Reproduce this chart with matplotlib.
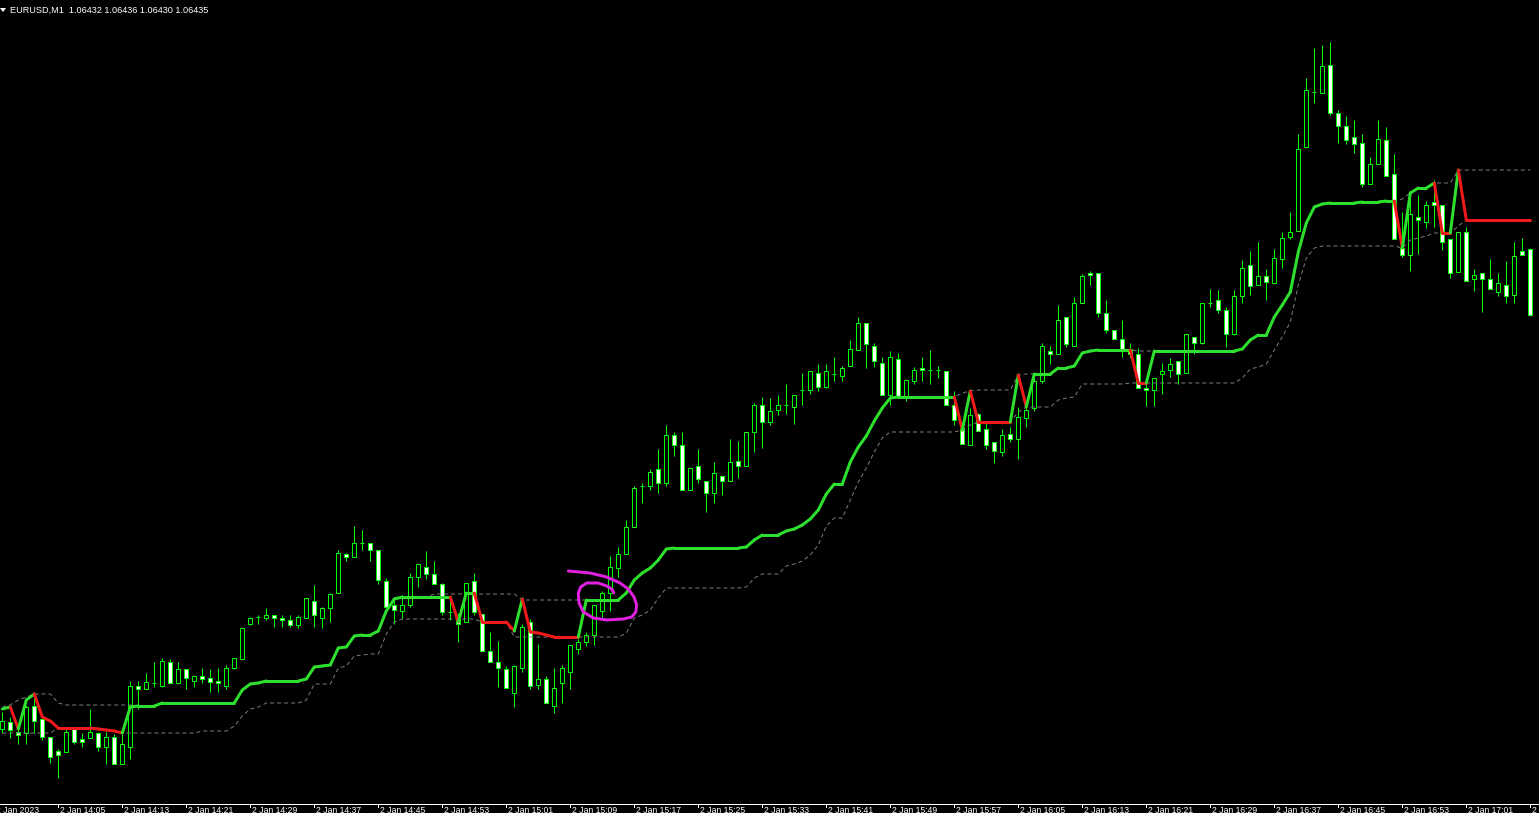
import matplotlib
matplotlib.use('Agg')
import matplotlib.pyplot as plt
from matplotlib.patches import Rectangle, Polygon
from matplotlib.collections import LineCollection
from matplotlib.lines import Line2D
import matplotlib.transforms as mtransforms
import numpy as np

plt.rcParams['font.family'] = ['Liberation Sans', 'DejaVu Sans']

# ---------------- data (EURUSD M1, one value per bar) ----------------
open_ = [
1.06271, 1.06278, 1.06268, 1.06267, 1.06294, 1.06281, 1.06263, 1.06249, 1.06248, 1.06271,
1.06261, 1.06262, 1.06267, 1.06253, 1.06263, 1.06236, 1.06253, 1.06314, 1.06311, 1.06317,
1.06314, 1.06338, 1.06317, 1.06331, 1.06319, 1.06324, 1.06322, 1.06319, 1.06314, 1.06332,
1.06341, 1.06376, 1.06383, 1.06382, 1.06385, 1.06382, 1.06380, 1.06375, 1.06382, 1.06399,
1.06382, 1.06392, 1.06407, 1.06446, 1.06443, 1.06457, 1.06457, 1.06450, 1.06419, 1.06395,
1.06389, 1.06395, 1.06423, 1.06433, 1.06426, 1.06416, 1.06388, 1.06381, 1.06378, 1.06419,
1.06386, 1.06349, 1.06338, 1.06331, 1.06307, 1.06332, 1.06378, 1.06315, 1.06321, 1.06294,
1.06317, 1.06328, 1.06351, 1.06358, 1.06365, 1.06389, 1.06407, 1.06432, 1.06446, 1.06473,
1.06514, 1.06514, 1.06531, 1.06517, 1.06565, 1.06555, 1.06510, 1.06534, 1.06519, 1.06507,
1.06524, 1.06519, 1.06539, 1.06534, 1.06568, 1.06595, 1.06578, 1.06590, 1.06595, 1.06593,
1.06610, 1.06610, 1.06627, 1.06613, 1.06626, 1.06624, 1.06634, 1.06650, 1.06677, 1.06654,
1.06637, 1.06605, 1.06641, 1.06604, 1.06619, 1.06632, 1.06630, 1.06630, 1.06629, 1.06595,
1.06571, 1.06555, 1.06586, 1.06571, 1.06558, 1.06548, 1.06566, 1.06561, 1.06582, 1.06592,
1.06619, 1.06649, 1.06646, 1.06683, 1.06654, 1.06697, 1.06727, 1.06727, 1.06687, 1.06670,
1.06661, 1.06651, 1.06646, 1.06612, 1.06610, 1.06626, 1.06630, 1.06639, 1.06627, 1.06663,
1.06657, 1.06697, 1.06700, 1.06690, 1.06666, 1.06704, 1.06735, 1.06715, 1.06724, 1.06717,
1.06741, 1.06763, 1.06769, 1.06853, 1.06908, 1.06907, 1.06935, 1.06887, 1.06874, 1.06863,
1.06857, 1.06816, 1.06836, 1.06860, 1.06826, 1.06752, 1.06745, 1.06783, 1.06778, 1.06798,
1.06795, 1.06761, 1.06728, 1.06768, 1.06721, 1.06727, 1.06721, 1.06708, 1.06715, 1.06705,
1.06749, 1.06751]

high = [
1.06288, 1.06283, 1.06273, 1.06295, 1.06307, 1.06281, 1.06263, 1.06251, 1.06271, 1.06271,
1.06267, 1.06291, 1.06268, 1.06268, 1.06266, 1.06266, 1.06319, 1.06319, 1.06327, 1.06338,
1.06342, 1.06341, 1.06338, 1.06331, 1.06324, 1.06332, 1.06331, 1.06332, 1.06335, 1.06342,
1.06372, 1.06383, 1.06385, 1.06392, 1.06385, 1.06385, 1.06385, 1.06385, 1.06402, 1.06415,
1.06393, 1.06407, 1.06450, 1.06447, 1.06474, 1.06470, 1.06457, 1.06450, 1.06422, 1.06403,
1.06405, 1.06427, 1.06436, 1.06449, 1.06439, 1.06417, 1.06405, 1.06387, 1.06417, 1.06427,
1.06386, 1.06368, 1.06359, 1.06334, 1.06335, 1.06376, 1.06381, 1.06356, 1.06324, 1.06332,
1.06335, 1.06355, 1.06361, 1.06368, 1.06395, 1.06409, 1.06444, 1.06453, 1.06480, 1.06514,
1.06517, 1.06531, 1.06551, 1.06575, 1.06568, 1.06568, 1.06532, 1.06551, 1.06519, 1.06538,
1.06524, 1.06561, 1.06559, 1.06568, 1.06597, 1.06603, 1.06602, 1.06605, 1.06616, 1.06605,
1.06627, 1.06629, 1.06636, 1.06636, 1.06643, 1.06634, 1.06660, 1.06683, 1.06677, 1.06657,
1.06643, 1.06649, 1.06647, 1.06620, 1.06633, 1.06643, 1.06650, 1.06634, 1.06629, 1.06609,
1.06576, 1.06592, 1.06587, 1.06577, 1.06558, 1.06571, 1.06573, 1.06593, 1.06596, 1.06626,
1.06657, 1.06654, 1.06695, 1.06683, 1.06703, 1.06726, 1.06729, 1.06727, 1.06700, 1.06670,
1.06680, 1.06657, 1.06652, 1.06622, 1.06622, 1.06637, 1.06642, 1.06639, 1.06666, 1.06663,
1.06697, 1.06711, 1.06710, 1.06693, 1.06710, 1.06740, 1.06749, 1.06758, 1.06731, 1.06751,
1.06768, 1.06788, 1.06866, 1.06922, 1.06952, 1.06955, 1.06958, 1.06890, 1.06884, 1.06880,
1.06866, 1.06843, 1.06880, 1.06873, 1.06846, 1.06788, 1.06803, 1.06805, 1.06799, 1.06820,
1.06795, 1.06761, 1.06768, 1.06773, 1.06731, 1.06727, 1.06741, 1.06727, 1.06739, 1.06758,
1.06762, 1.06752]

low = [
1.06267, 1.06262, 1.06256, 1.06256, 1.06267, 1.06260, 1.06237, 1.06222, 1.06248, 1.06256,
1.06253, 1.06262, 1.06249, 1.06236, 1.06236, 1.06236, 1.06241, 1.06291, 1.06311, 1.06313,
1.06313, 1.06317, 1.06317, 1.06311, 1.06313, 1.06317, 1.06308, 1.06308, 1.06311, 1.06331,
1.06341, 1.06375, 1.06376, 1.06380, 1.06373, 1.06373, 1.06373, 1.06372, 1.06382, 1.06373,
1.06372, 1.06378, 1.06407, 1.06439, 1.06443, 1.06450, 1.06439, 1.06416, 1.06393, 1.06376,
1.06381, 1.06393, 1.06413, 1.06421, 1.06416, 1.06385, 1.06380, 1.06358, 1.06378, 1.06385,
1.06349, 1.06338, 1.06313, 1.06312, 1.06293, 1.06328, 1.06311, 1.06311, 1.06297, 1.06287,
1.06297, 1.06311, 1.06346, 1.06354, 1.06355, 1.06383, 1.06389, 1.06423, 1.06446, 1.06473,
1.06497, 1.06510, 1.06507, 1.06514, 1.06544, 1.06510, 1.06510, 1.06517, 1.06488, 1.06497,
1.06505, 1.06519, 1.06522, 1.06534, 1.06548, 1.06552, 1.06575, 1.06585, 1.06586, 1.06576,
1.06595, 1.06606, 1.06609, 1.06612, 1.06619, 1.06619, 1.06634, 1.06650, 1.06632, 1.06633,
1.06605, 1.06595, 1.06604, 1.06599, 1.06616, 1.06619, 1.06616, 1.06622, 1.06595, 1.06575,
1.06556, 1.06555, 1.06569, 1.06551, 1.06537, 1.06544, 1.06558, 1.06541, 1.06573, 1.06589,
1.06617, 1.06636, 1.06646, 1.06653, 1.06654, 1.06697, 1.06715, 1.06683, 1.06667, 1.06661,
1.06643, 1.06642, 1.06612, 1.06594, 1.06594, 1.06606, 1.06623, 1.06616, 1.06627, 1.06646,
1.06656, 1.06693, 1.06687, 1.06653, 1.06665, 1.06697, 1.06705, 1.06715, 1.06700, 1.06717,
1.06732, 1.06761, 1.06769, 1.06853, 1.06897, 1.06907, 1.06885, 1.06857, 1.06856, 1.06847,
1.06813, 1.06816, 1.06836, 1.06824, 1.06761, 1.06743, 1.06729, 1.06746, 1.06772, 1.06773,
1.06750, 1.06722, 1.06728, 1.06719, 1.06709, 1.06688, 1.06711, 1.06704, 1.06697, 1.06697,
1.06745, 1.06684]

close = [
1.06279, 1.06270, 1.06265, 1.06293, 1.06279, 1.06263, 1.06243, 1.06245, 1.06268, 1.06258,
1.06258, 1.06268, 1.06253, 1.06263, 1.06236, 1.06256, 1.06314, 1.06311, 1.06318, 1.06317,
1.06339, 1.06317, 1.06331, 1.06322, 1.06324, 1.06321, 1.06318, 1.06317, 1.06332, 1.06342,
1.06372, 1.06382, 1.06383, 1.06385, 1.06382, 1.06380, 1.06375, 1.06383, 1.06402, 1.06385,
1.06392, 1.06406, 1.06447, 1.06443, 1.06457, 1.06457, 1.06450, 1.06420, 1.06393, 1.06390,
1.06395, 1.06423, 1.06436, 1.06426, 1.06416, 1.06388, 1.06388, 1.06376, 1.06417, 1.06388,
1.06349, 1.06338, 1.06332, 1.06312, 1.06334, 1.06373, 1.06314, 1.06321, 1.06297, 1.06312,
1.06332, 1.06355, 1.06358, 1.06365, 1.06395, 1.06407, 1.06433, 1.06446, 1.06473, 1.06512,
1.06514, 1.06528, 1.06517, 1.06565, 1.06555, 1.06510, 1.06532, 1.06521, 1.06507, 1.06527,
1.06519, 1.06538, 1.06534, 1.06568, 1.06595, 1.06578, 1.06589, 1.06595, 1.06595, 1.06605,
1.06610, 1.06629, 1.06613, 1.06629, 1.06626, 1.06632, 1.06651, 1.06677, 1.06656, 1.06639,
1.06605, 1.06643, 1.06604, 1.06620, 1.06630, 1.06630, 1.06630, 1.06630, 1.06595, 1.06580,
1.06556, 1.06585, 1.06569, 1.06555, 1.06549, 1.06565, 1.06561, 1.06583, 1.06590, 1.06619,
1.06654, 1.06646, 1.06680, 1.06656, 1.06697, 1.06724, 1.06725, 1.06687, 1.06670, 1.06661,
1.06651, 1.06646, 1.06612, 1.06610, 1.06622, 1.06629, 1.06636, 1.06626, 1.06666, 1.06657,
1.06697, 1.06697, 1.06690, 1.06666, 1.06704, 1.06732, 1.06714, 1.06724, 1.06718, 1.06742,
1.06762, 1.06768, 1.06851, 1.06910, 1.06908, 1.06934, 1.06887, 1.06874, 1.06860, 1.06856,
1.06816, 1.06836, 1.06861, 1.06824, 1.06761, 1.06745, 1.06786, 1.06780, 1.06795, 1.06795,
1.06758, 1.06727, 1.06768, 1.06719, 1.06725, 1.06721, 1.06711, 1.06717, 1.06704, 1.06744,
1.06745, 1.06685]

# trailing line of the indicator (thick, green/red)
trail = [
1.06291, 1.06293, 1.06271, 1.06300, 1.06306, 1.06283, 1.06279, 1.06272, 1.06272, 1.06272,
1.06272, 1.06272, 1.06271, 1.06270, 1.06269, 1.06267, 1.06293, 1.06294, 1.06294, 1.06294,
1.06297, 1.06297, 1.06297, 1.06297, 1.06297, 1.06297, 1.06297, 1.06297, 1.06297, 1.06297,
1.06310, 1.06316, 1.06317, 1.06319, 1.06319, 1.06319, 1.06319, 1.06319, 1.06321, 1.06333,
1.06334, 1.06335, 1.06352, 1.06353, 1.06364, 1.06365, 1.06365, 1.06369, 1.06389, 1.06401,
1.06403, 1.06403, 1.06403, 1.06403, 1.06403, 1.06403, 1.06403, 1.06378, 1.06407, 1.06407,
1.06378, 1.06378, 1.06378, 1.06378, 1.06369, 1.06401, 1.06368, 1.06367, 1.06365, 1.06363,
1.06363, 1.06363, 1.06363, 1.06400, 1.06400, 1.06400, 1.06400, 1.06400, 1.06407, 1.06420,
1.06427, 1.06432, 1.06440, 1.06451, 1.06452, 1.06452, 1.06452, 1.06452, 1.06452, 1.06452,
1.06452, 1.06452, 1.06452, 1.06453, 1.06460, 1.06465, 1.06465, 1.06465, 1.06469, 1.06471,
1.06475, 1.06481, 1.06490, 1.06506, 1.06516, 1.06516, 1.06538, 1.06553, 1.06564, 1.06579,
1.06592, 1.06602, 1.06603, 1.06603, 1.06603, 1.06603, 1.06603, 1.06603, 1.06603, 1.06603,
1.06570, 1.06609, 1.06578, 1.06578, 1.06578, 1.06578, 1.06578, 1.06625, 1.06593, 1.06626,
1.06626, 1.06626, 1.06632, 1.06632, 1.06634, 1.06647, 1.06649, 1.06650, 1.06650, 1.06650,
1.06650, 1.06650, 1.06617, 1.06617, 1.06649, 1.06649, 1.06649, 1.06649, 1.06649, 1.06649,
1.06649, 1.06649, 1.06649, 1.06649, 1.06649, 1.06651, 1.06660, 1.06665, 1.06665, 1.06683,
1.06695, 1.06708, 1.06748, 1.06777, 1.06793, 1.06796, 1.06797, 1.06797, 1.06797, 1.06797,
1.06798, 1.06798, 1.06798, 1.06799, 1.06799, 1.06752, 1.06807, 1.06812, 1.06812, 1.06817,
1.06767, 1.06767, 1.06830, 1.06780, 1.06780, 1.06780, 1.06780, 1.06780, 1.06780, 1.06780,
1.06780, 1.06780]

# bar ranges (inclusive) where the trailing line is in the down (red) state
red_runs = [(2, 2), (5, 15), (57, 57), (60, 64), (66, 72), (120, 120), (122, 126),
            (128, 128), (142, 143), (175, 175), (180, 181), (183, 191)]

# upper and lower bands (thin dotted grey)
band_hi = [
1.06293, 1.06295, 1.06300, 1.06303, 1.06306, 1.06306, 1.06306, 1.06297, 1.06295, 1.06295,
1.06295, 1.06295, 1.06295, 1.06295, 1.06295, 1.06295, 1.06295, 1.06294, 1.06294, 1.06294,
1.06297, 1.06297, 1.06297, 1.06297, 1.06297, 1.06297, 1.06297, 1.06297, 1.06297, 1.06297,
1.06310, 1.06316, 1.06317, 1.06319, 1.06319, 1.06319, 1.06319, 1.06319, 1.06321, 1.06333,
1.06334, 1.06335, 1.06352, 1.06353, 1.06364, 1.06365, 1.06365, 1.06369, 1.06389, 1.06401,
1.06403, 1.06403, 1.06403, 1.06403, 1.06406, 1.06406, 1.06406, 1.06406, 1.06406, 1.06406,
1.06406, 1.06406, 1.06406, 1.06406, 1.06406, 1.06400, 1.06400, 1.06400, 1.06400, 1.06400,
1.06400, 1.06400, 1.06400, 1.06400, 1.06400, 1.06400, 1.06400, 1.06400, 1.06407, 1.06420,
1.06427, 1.06432, 1.06440, 1.06451, 1.06452, 1.06452, 1.06452, 1.06452, 1.06452, 1.06452,
1.06452, 1.06452, 1.06452, 1.06453, 1.06460, 1.06465, 1.06465, 1.06465, 1.06469, 1.06471,
1.06475, 1.06481, 1.06490, 1.06506, 1.06516, 1.06516, 1.06538, 1.06553, 1.06564, 1.06579,
1.06592, 1.06602, 1.06603, 1.06603, 1.06603, 1.06603, 1.06603, 1.06603, 1.06603, 1.06603,
1.06607, 1.06609, 1.06610, 1.06610, 1.06610, 1.06610, 1.06610, 1.06625, 1.06626, 1.06626,
1.06626, 1.06626, 1.06632, 1.06632, 1.06634, 1.06647, 1.06649, 1.06650, 1.06650, 1.06650,
1.06650, 1.06650, 1.06649, 1.06649, 1.06649, 1.06649, 1.06649, 1.06649, 1.06649, 1.06649,
1.06649, 1.06649, 1.06649, 1.06649, 1.06649, 1.06651, 1.06660, 1.06665, 1.06665, 1.06683,
1.06695, 1.06708, 1.06748, 1.06777, 1.06793, 1.06796, 1.06797, 1.06797, 1.06797, 1.06797,
1.06798, 1.06798, 1.06798, 1.06799, 1.06799, 1.06801, 1.06807, 1.06812, 1.06812, 1.06817,
1.06817, 1.06817, 1.06830, 1.06830, 1.06830, 1.06830, 1.06830, 1.06830, 1.06830, 1.06830,
1.06830, 1.06830]

band_lo = [
1.06267, 1.06267, 1.06267, 1.06267, 1.06267, 1.06267, 1.06267, 1.06272, 1.06272, 1.06272,
1.06272, 1.06272, 1.06271, 1.06270, 1.06269, 1.06267, 1.06267, 1.06267, 1.06267, 1.06267,
1.06267, 1.06267, 1.06267, 1.06267, 1.06267, 1.06269, 1.06269, 1.06269, 1.06269, 1.06274,
1.06284, 1.06291, 1.06293, 1.06297, 1.06297, 1.06297, 1.06297, 1.06297, 1.06300, 1.06316,
1.06316, 1.06316, 1.06332, 1.06334, 1.06344, 1.06345, 1.06346, 1.06346, 1.06366, 1.06378,
1.06381, 1.06381, 1.06381, 1.06381, 1.06381, 1.06381, 1.06381, 1.06381, 1.06381, 1.06381,
1.06378, 1.06378, 1.06378, 1.06378, 1.06363, 1.06363, 1.06363, 1.06363, 1.06363, 1.06363,
1.06363, 1.06363, 1.06363, 1.06363, 1.06363, 1.06363, 1.06363, 1.06363, 1.06367, 1.06382,
1.06385, 1.06390, 1.06402, 1.06412, 1.06412, 1.06412, 1.06412, 1.06412, 1.06412, 1.06412,
1.06412, 1.06412, 1.06412, 1.06413, 1.06422, 1.06426, 1.06426, 1.06426, 1.06434, 1.06436,
1.06439, 1.06445, 1.06455, 1.06474, 1.06482, 1.06482, 1.06500, 1.06518, 1.06532, 1.06548,
1.06562, 1.06568, 1.06568, 1.06568, 1.06568, 1.06568, 1.06568, 1.06568, 1.06568, 1.06568,
1.06570, 1.06575, 1.06578, 1.06578, 1.06578, 1.06578, 1.06578, 1.06588, 1.06593, 1.06593,
1.06593, 1.06593, 1.06600, 1.06602, 1.06603, 1.06616, 1.06616, 1.06616, 1.06616, 1.06616,
1.06616, 1.06617, 1.06617, 1.06617, 1.06617, 1.06617, 1.06617, 1.06617, 1.06617, 1.06617,
1.06617, 1.06617, 1.06617, 1.06617, 1.06617, 1.06622, 1.06631, 1.06633, 1.06636, 1.06650,
1.06663, 1.06678, 1.06715, 1.06742, 1.06752, 1.06754, 1.06754, 1.06754, 1.06754, 1.06754,
1.06754, 1.06754, 1.06754, 1.06754, 1.06754, 1.06752, 1.06760, 1.06762, 1.06764, 1.06767,
1.06767, 1.06767, 1.06774, 1.06780, 1.06780, 1.06780, 1.06780, 1.06780, 1.06780, 1.06780,
1.06780, 1.06780]

# time axis labels and the bars they sit on
tick_bars = [-1, 7, 15, 23, 31, 39, 47, 55, 63, 71, 79, 87, 95, 103, 111, 119, 127,
             135, 143, 151, 159, 167, 175, 183, 191]
tick_labels = ['2 Jan 2023', '2 Jan 14:05', '2 Jan 14:13', '2 Jan 14:21', '2 Jan 14:29',
               '2 Jan 14:37', '2 Jan 14:45', '2 Jan 14:53', '2 Jan 15:01', '2 Jan 15:09',
               '2 Jan 15:17', '2 Jan 15:25', '2 Jan 15:33', '2 Jan 15:41', '2 Jan 15:49',
               '2 Jan 15:57', '2 Jan 16:05', '2 Jan 16:13', '2 Jan 16:21', '2 Jan 16:29',
               '2 Jan 16:37', '2 Jan 16:45', '2 Jan 16:53', '2 Jan 17:01', '2 Jan 17:09']

title_text = 'EURUSD,M1  1.06432 1.06436 1.06430 1.06435'

# hand-drawn magenta annotation (bar, price)
mark_bar = [70.75, 73.46, 75.55, 77.21, 78.25, 78.96, 79.30, 79.18, 78.68, 77.63, 75.55,
            73.88, 72.63, 72.09, 72.00, 72.30, 73.05, 74.50, 75.55, 76.18, 76.46]
mark_price = [1.06429, 1.06427, 1.06423, 1.06417, 1.06411, 1.06403, 1.06395, 1.06388,
              1.06383, 1.06381, 1.06380, 1.06382, 1.06388, 1.06397, 1.06407, 1.06413,
              1.06417, 1.06417, 1.06414, 1.06411, 1.06407]

# ---------------- figure ----------------
W, H = 1539, 813
AX_BOTTOM = 803
PX = 72.0 / 100.0  # points per pixel

fig = plt.figure(figsize=(W / 100, H / 100), dpi=100, facecolor='black')
ax = fig.add_axes([0, (H - AX_BOTTOM) / H, 1, AX_BOTTOM / H])
ax.set_facecolor('black')
ax.set_xlim(-2.3 / 8, (W - 2.3) / 8)
ax.set_ylim(1.06197, 1.07000)
ax.axis('off')

LIME = '#00FF00'
n = len(open_)
bars = np.arange(n)

# wicks
ax.vlines(bars, low, high, colors=LIME, linewidth=PX, zorder=2)
# bodies
for i in range(n):
    o, c = open_[i], close[i]
    bottom = min(o, c)
    h = abs(c - o)
    face = 'white' if c < o else 'black'
    ax.add_patch(Rectangle((i - 0.25, bottom), 0.5, h, facecolor=face,
                           edgecolor=LIME, linewidth=PX, zorder=3))

# bands
ax.plot(bars, band_hi, color='#7A7A7A', lw=PX, ls=(0, (4, 3)), zorder=4)
ax.plot(bars, band_lo, color='#7A7A7A', lw=PX, ls=(0, (4, 3)), zorder=4)

# trailing line, coloured by state
down = np.zeros(n, dtype=bool)
for a, b in red_runs:
    down[a:b + 1] = True
segs, cols = [], []
for i in range(1, n):
    segs.append([(i - 1, trail[i - 1]), (i, trail[i])])
    cols.append('#F01A1A' if down[i] else '#2EE02E')
lc = LineCollection(segs, colors=cols, linewidths=3 * PX, capstyle='round',
                    joinstyle='round', zorder=5)
ax.add_collection(lc)

# magenta annotation
ax.plot(mark_bar, mark_price, color='#E020E0', lw=3 * PX, solid_capstyle='round',
        solid_joinstyle='round', zorder=6)

# bottom time axis
yline = (H - AX_BOTTOM - 0.5) / H
fig.add_artist(Line2D([0, 1], [yline, yline], transform=fig.transFigure,
                      color='white', lw=PX))
blend = mtransforms.blended_transform_factory(ax.transData, fig.transFigure)
for b, lab in zip(tick_bars, tick_labels):
    fig.add_artist(Line2D([b, b], [yline, (H - 807) / H], transform=blend,
                          color='white', lw=PX))
    t = mtransforms.offset_copy(blend, fig=fig, x=1.5, y=0, units='dots')
    fig.text(b, (H - 805.5) / H, lab, transform=t, color='white', fontsize=6.2,
             ha='left', va='top')

# title
fig.text(10 / W, 1 - 10 / H, title_text, color='white', fontsize=6.6,
         ha='left', va='center')
tri = Polygon([(0 / W, 1 - 8 / H), (6 / W, 1 - 8 / H), (3 / W, 1 - 12 / H)],
              closed=True, transform=fig.transFigure, facecolor='white',
              edgecolor='none')
fig.add_artist(tri)

fig.savefig('out.png', dpi=100, facecolor='black')
